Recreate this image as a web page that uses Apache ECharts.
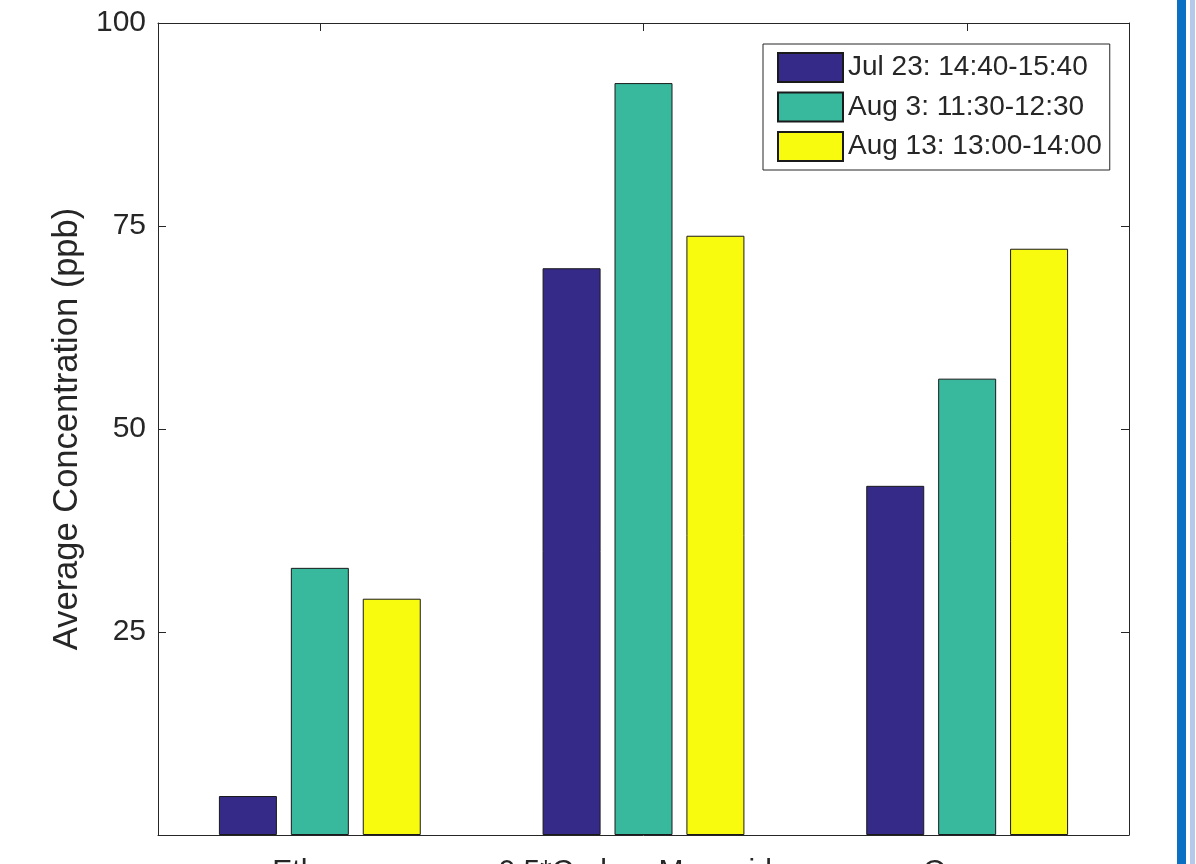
<!DOCTYPE html>
<html>
<head>
<meta charset="utf-8">
<script src="https://cdn.jsdelivr.net/npm/echarts@6/dist/echarts.min.js"></script>
<style>
  html, body { margin: 0; padding: 0; background: #ffffff; }
  #chart { width: 1196px; height: 864px; }
</style>
</head>
<body>
<div id="chart"></div>
<script>
// Species measured and average concentrations (ppb) for each sampling window
const categories = ['Ethane', '0.5*Carbon Monoxide', 'Ozone'];
const seriesNames = ['Jul 23: 14:40-15:40', 'Aug 3: 11:30-12:30', 'Aug 13: 13:00-14:00'];
const jul23 = [4.8, 69.8, 43.0];
const aug3 = [32.9, 92.6, 56.2];
const aug13 = [29.1, 73.8, 72.2];
const yTicks = [0, 25, 50, 75, 100];

const colors = ['#352a87', '#38b99e', '#f9fb0e'];
const ink = '#262626';
const font = 'Liberation Sans, Arial, Helvetica, sans-serif';

const chart = echarts.init(document.getElementById('chart'), null, { renderer: 'canvas' });

const seriesData = [jul23, aug3, aug13];

const tickStyle = { show: true, inside: true, length: 8, lineStyle: { color: ink, width: 1 } };
const frameLine = { show: true, onZero: false, lineStyle: { color: ink, width: 1 } };

chart.setOption({
  backgroundColor: '#ffffff',
  animation: false,
  color: colors,
  grid: { left: 158, top: 23, right: 67, bottom: 29, containLabel: false, outerBoundsMode: 'none' },
  legend: {
    orient: 'vertical',
    left: 763,
    top: 44,
    padding: [8, 8, 8, 14],
    itemWidth: 65,
    itemHeight: 29,
    itemGap: 8.5,
    backgroundColor: '#ffffff',
    borderColor: ink,
    borderWidth: 1,
    borderRadius: 0,
    icon: 'rect',
    selectedMode: false,
    textStyle: { fontFamily: font, fontSize: 28, color: ink, padding: [0, 0, 0, 0] },
    data: seriesNames
  },
  xAxis: [
    {
      type: 'category',
      data: categories,
      position: 'bottom',
      axisLine: frameLine,
      axisTick: Object.assign({ alignWithLabel: true }, tickStyle),
      axisLabel: { fontFamily: font, fontSize: 30, color: ink, margin: 22, interval: 0, hideOverlap: false },
      splitLine: { show: false }
    },
    {
      type: 'category',
      data: categories,
      position: 'top',
      axisLine: frameLine,
      axisTick: Object.assign({ alignWithLabel: true }, tickStyle),
      axisLabel: { show: false },
      splitLine: { show: false }
    }
  ],
  yAxis: [
    {
      type: 'value',
      min: yTicks[0],
      max: yTicks[yTicks.length - 1],
      interval: 25,
      position: 'left',
      name: 'Average Concentration (ppb)',
      nameLocation: 'middle',
      nameGap: 70,
      nameTextStyle: { fontFamily: font, fontSize: 34.5, color: ink },
      axisLine: frameLine,
      axisTick: tickStyle,
      axisLabel: {
        fontFamily: font, fontSize: 30, color: ink, margin: 12,
        formatter: v => (v === 0 ? '' : String(v))
      },
      splitLine: { show: false }
    },
    {
      type: 'value',
      min: yTicks[0],
      max: yTicks[yTicks.length - 1],
      interval: 25,
      position: 'right',
      axisLine: frameLine,
      axisTick: tickStyle,
      axisLabel: { show: false },
      splitLine: { show: false }
    }
  ],
  series: seriesNames.map((name, i) => ({
    name: name,
    type: 'bar',
    xAxisIndex: 0,
    yAxisIndex: 0,
    data: seriesData[i],
    barWidth: 58,
    barGap: '24%',
    itemStyle: { color: colors[i], borderColor: '#1a1a1a', borderWidth: 1 }
  })),
  graphic: [
    // window frame strips along the right edge
    { type: 'rect', silent: true, shape: { x: 1177, y: 0, width: 9, height: 864 }, style: { fill: '#0a70c4' } },
    { type: 'rect', silent: true, shape: { x: 1190, y: 0, width: 5, height: 864 }, style: { fill: '#b6c9ea' } }
  ]
});
</script>
</body>
</html>
